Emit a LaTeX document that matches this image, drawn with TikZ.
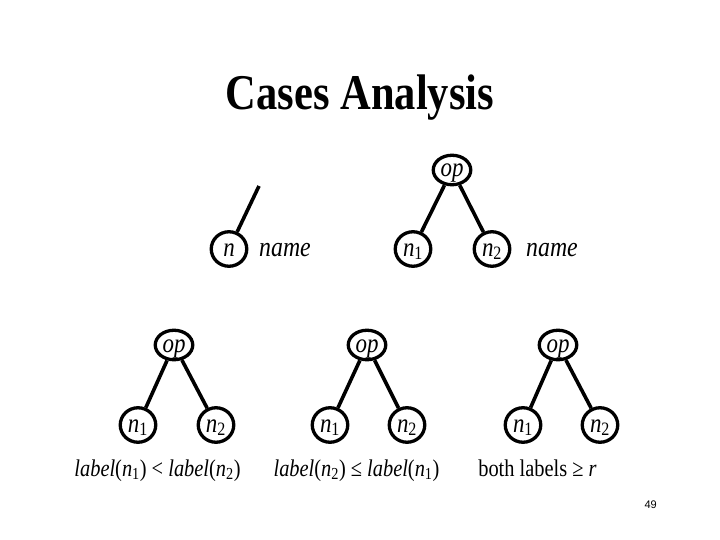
\documentclass[tikz,border=0pt]{standalone}
\usepackage{fontspec}
\setmainfont{Liberation Serif}[FakeStretch=0.85]
\setsansfont{Liberation Sans}
\usetikzlibrary{shapes.geometric}
\newcommand\subn[1]{\textsubscript{\upshape #1}}
\begin{document}
\begin{tikzpicture}[x=1pt,y=-1pt,
  tnode/.style={draw, line width=3.3pt, ellipse, inner sep=0pt,
    minimum width=35.5pt, minimum height=34.5pt,
    text height=14pt, text depth=0pt,
    font=\fontsize{27}{29}\selectfont\itshape},
  opnode/.style={tnode, minimum width=37.5pt, minimum height=29.5pt},
  edge/.style={line width=3.6pt},
  bigtxt/.style={inner sep=0pt, font=\fontsize{28}{30}\selectfont\itshape},
  lbl/.style={anchor=base, inner sep=0pt, font=\fontsize{24}{28}\selectfont}]
\useasboundingbox (0,0) rectangle (720,540);
\fill[white] (0,0) rectangle (720,540);
% title
\node[anchor=base, inner sep=0pt, font=\fontsize{50}{55}\selectfont\bfseries] (title) at (360,110) {Cases Analysis};
% top left
\node[tnode] (n) at (229,249) {n};
\coordinate (nt) at (259,186);
\draw[edge] (n) -- (nt);
\node[bigtxt, anchor=base west] (name1) at (259,256) {name};
% top right
\node[opnode] (top) at (452,170) {op};
\node[tnode] (tn1) at (413,249) {n\subn{1}};
\node[tnode] (tn2) at (492,249) {n\subn{2}};
\draw[edge] (top) -- (tn1);
\draw[edge] (top) -- (tn2);
\node[bigtxt, anchor=base west] (name2) at (526,256) {name};
% bottom trees
\node[opnode] (op1) at (174,345) {op};
\node[tnode] (a1) at (138,425) {n\subn{1}};
\node[tnode] (a2) at (216,425) {n\subn{2}};
\draw[edge] (op1) -- (a1);
\draw[edge] (op1) -- (a2);
\node[opnode] (op2) at (367,345) {op};
\node[tnode] (b1) at (330,425) {n\subn{1}};
\node[tnode] (b2) at (407,425) {n\subn{2}};
\draw[edge] (op2) -- (b1);
\draw[edge] (op2) -- (b2);
\node[opnode] (op3) at (558,345) {op};
\node[tnode] (c1) at (523,425) {n\subn{1}};
\node[tnode] (c2) at (600,425) {n\subn{2}};
\draw[edge] (op3) -- (c1);
\draw[edge] (op3) -- (c2);
% labels
\node[lbl] (l1) at (157.5,476) {\textit{label}(\textit{n}\subn{1}) < \textit{label}(\textit{n}\subn{2})};
\node[lbl] (l2) at (356.5,476) {\textit{label}(\textit{n}\subn{2}) ≤ \textit{label}(\textit{n}\subn{1})};
\node[lbl] (l3) at (537.5,476) {both labels ≥ \textit{r}};
% page number
\node[anchor=base east, inner sep=0pt, font=\sffamily\fontsize{11}{12}\selectfont] (pg) at (657,508) {49};
\end{tikzpicture}
\end{document}
